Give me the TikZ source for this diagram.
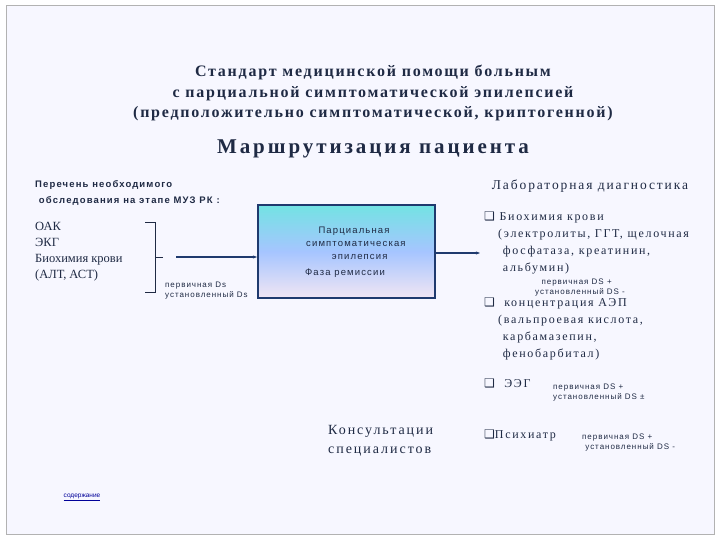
\documentclass[tikz,border=0pt]{standalone}
\usepackage{fontspec}
\setmainfont{Liberation Serif}
\setsansfont{Liberation Sans}
\newfontfamily\symfont{DejaVu Sans}
\newfontfamily\wserif[LetterSpace=14]{Liberation Serif}
\newfontfamily\wserifb[LetterSpace=11]{Liberation Serif}
\newfontfamily\wsans[LetterSpace=12]{Liberation Sans}
\usetikzlibrary{arrows.meta}
\definecolor{ink}{HTML}{1F2A44}
\definecolor{navy}{HTML}{1F3A6E}
\begin{document}
\begin{tikzpicture}[x=1pt,y=-1pt,
  txt/.style={inner sep=0pt,text=ink,align=left},
  sm/.style={txt,font=\wsans\fontsize{8}{10}\selectfont},
  lst/.style={txt,font=\wserif\fontsize{12}{17}\selectfont},
  conn/.style={draw=navy,line width=1.2pt,-{Stealth[length=4pt]}}]
\useasboundingbox (0,0) rectangle (720,540);
\fill[white] (0,0) rectangle (720,540);
\fill[color=blue!3] (6,6) rectangle (714,534);
\draw[gray!60,line width=1pt] (6,6) rectangle (714,534);
\node[txt,align=center,font=\wserifb\bfseries\fontsize{16}{20.5}\selectfont] (title) at (373,93)
 {Стандарт медицинской помощи больным\\с парциальной симптоматической эпилепсией\\(предположительно симптоматической, криптогенной)};
\node[txt,font=\wserif\bfseries\fontsize{21}{24}\selectfont] (route) at (373,149) {Маршрутизация пациента};
\node[txt,anchor=north west,font=\wsans\bfseries\fontsize{9.5}{16}\selectfont] (per) at (35,180)
 {Перечень необходимого\\\ обследования на этапе МУЗ РК :};
\node[txt,anchor=north west,font=\fontsize{12.5}{16}\selectfont] (left) at (35,222) {ОАК\\ЭКГ\\Биохимия крови\\(АЛТ, АСТ)};
\draw[ink,line width=0.8pt] (145,222) -- (155,222) -- (155,292) -- (145,292);
\coordinate (bk) at (155,257);
\draw[ink,line width=0.8pt] (bk) -- (163,257);
\node[sm,anchor=north west] (ds1) at (165,282) {первичная Ds\\установленный Ds};
\shade[top color=teal!40!cyan!55,bottom color=blue!10!violet!10,middle color=cyan!35!blue!35] (258,205) rectangle (435,298);
\node[draw=navy,line width=2pt,minimum width=177pt,minimum height=93pt,inner sep=0pt] (box) at (346.5,251.5) {};
\node[txt,align=center,font=\wsans\fontsize{9.5}{13}\selectfont] at (354,243) {Парциальная\\\ симптоматическая\\\ \ \ эпилепсия};
\node[txt,font=\wsans\fontsize{9.5}{13}\selectfont] at (345,273) {Фаза ремиссии};
\coordinate (bs) at (176,257);
\draw[conn] (bs) -- (box.west |- bs);
\node[txt,font=\wserif\fontsize{13.5}{16}\selectfont] (lab) at (590,186) {Лабораторная диагностика};
\coordinate (ae) at (480,253);
\draw[conn] (box.east |- ae) -- (ae);
\newcommand{\cb}{{\symfont\fontsize{12}{12}\selectfont ❑}}
\node[lst,anchor=north west] (l1) at (484,212)
 {\cb\ Биохимия крови\\\ \ \ (электролиты, ГГТ, щелочная\\\ \ \ \ фосфатаза, креатинин,\\\ \ \ \ альбумин)};
\node[sm,anchor=north west] (d2) at (535,279) {\ \ первичная DS +\\установленный DS -};
\node[lst,anchor=north west] (l2) at (484,298)
 {\cb\ \ концентрация АЭП\\\ \ \ (вальпроевая кислота,\\\ \ \ \ карбамазепин,\\\ \ \ \ фенобарбитал)};
\node[lst,anchor=north west] (l3) at (484,379) {\cb\ \ ЭЭГ};
\node[sm,anchor=north west] (d3) at (553,384) {первичная DS +\\установленный DS ±};
\node[txt,anchor=north west,font=\wserif\fontsize{14}{19}\selectfont] (kons) at (328,425) {Консультации\\специалистов};
\node[lst,anchor=north west] (l4) at (484,430) {\cb Психиатр};
\node[sm,anchor=north west] (d4) at (582,434) {первичная DS +\\\ установленный DS -};
\node[txt,font=\sffamily\fontsize{6.5}{8}\selectfont,text=blue!60!black] (sod) at (82,497) {\underline{содержание}};
\end{tikzpicture}
\end{document}
